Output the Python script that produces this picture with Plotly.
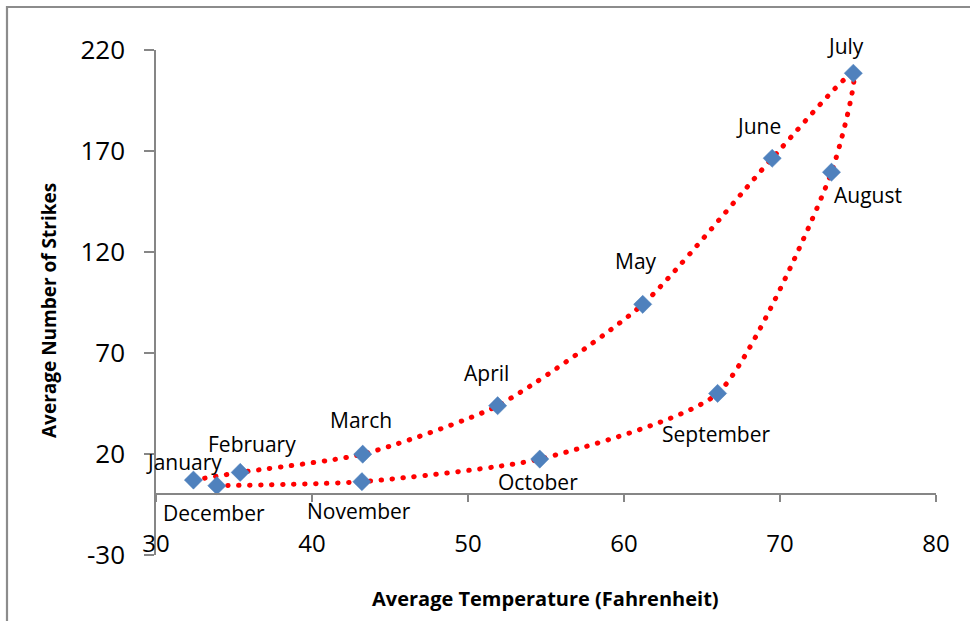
import plotly.graph_objects as go

# ---- data ----
months = ["January", "February", "March", "April", "May", "June",
          "July", "August", "September", "October", "November", "December"]
avg_temp_f = [32.4, 35.4, 43.25, 51.9, 61.2, 69.5, 74.7, 73.3, 66.0, 54.6, 43.2, 33.9]
avg_strikes = [7.1, 10.9, 19.9, 43.9, 94.1, 166.4, 208.5, 159.5, 50.0, 17.5, 6.3, 4.3]

x_ticks = [30, 40, 50, 60, 70, 80]
y_ticks = [-30, 20, 70, 120, 170, 220]

x_title = "Average Temperature (Fahrenheit)"
y_title = "Average Number of Strikes"

# ---- style ----
label_shift = [(-9, 18), (12, 28), (-2, 34), (-11, 33), (-7, 43), (-14, 32),
               (-8, 27), (37, -23), (-1, -41), (-2, -23), (-3, -29), (-3, -27)]
FONT = "Open Sans"
AXIS_COLOR = "#868686"
W, H = 970, 621
ML, MR, MT, MB = 156, 34, 50, 66
PW, PH = W - ML - MR, H - MT - MB


def px_to_paper_x(px):
    return (px - ML) / PW


def px_to_paper_y(py):
    return (H - MB - py) / PH


fig = go.Figure()
fig.add_trace(go.Scatter(
    x=avg_temp_f, y=avg_strikes, mode="lines+markers",
    line=dict(color="#FF0000", width=5, dash="5px,6px", shape="spline", smoothing=0.6),
    marker=dict(symbol="diamond", size=14, color="#4F81BD",
                line=dict(color="#4A7EBB", width=0.5)),
    hoverinfo="skip", showlegend=False,
))

annotations = []
for m, xv, yv, (dx, dy) in zip(months, avg_temp_f, avg_strikes, label_shift):
    annotations.append(dict(
        x=xv, y=yv, xref="x", yref="y", text=m, showarrow=False,
        xshift=dx, yshift=dy, xanchor="center", yanchor="middle",
        font=dict(family=FONT, size=21, color="#000000"),
    ))

annotations.append(dict(
    x=px_to_paper_x(545), y=px_to_paper_y(598), xref="paper", yref="paper",
    text="<b>" + x_title + "</b>", showarrow=False, xanchor="center", yanchor="middle",
    font=dict(family=FONT, size=20, color="#000000"),
))
annotations.append(dict(
    x=px_to_paper_x(49), y=px_to_paper_y(310), xref="paper", yref="paper",
    text="<b>" + y_title + "</b>", showarrow=False, xanchor="center", yanchor="middle",
    textangle=-90, font=dict(family=FONT, size=19, color="#000000"),
))

fig.update_layout(
    width=W, height=H,
    margin=dict(l=ML, r=MR, t=MT, b=MB, autoexpand=False),
    paper_bgcolor="white", plot_bgcolor="white",
    font=dict(family=FONT, color="#000000"),
    showlegend=False,
    xaxis=dict(
        range=[x_ticks[0], x_ticks[-1]], tickvals=x_ticks, ticktext=[str(v) for v in x_ticks],
        showgrid=False, zeroline=False, showline=False, ticks="",
        ticklabelstandoff=-28, ticklabeloverflow="allow",
        tickfont=dict(family=FONT, size=24, color="#000000"),
    ),
    xaxis2=dict(
        range=[x_ticks[0], x_ticks[-1]], tickvals=x_ticks, showticklabels=False,
        overlaying="x", anchor="free",
        position=(0 - y_ticks[0]) / (y_ticks[-1] - y_ticks[0]),
        showgrid=False, zeroline=False, showline=True, linecolor=AXIS_COLOR, linewidth=1.5,
        ticks="outside", ticklen=7, tickcolor=AXIS_COLOR, tickwidth=1.5,
    ),
    yaxis=dict(
        range=[y_ticks[0], y_ticks[-1]], tickvals=y_ticks, ticktext=[str(v) for v in y_ticks],
        showgrid=False, zeroline=False, showline=True, linecolor=AXIS_COLOR, linewidth=1.5,
        ticks="outside", ticklen=10, tickcolor=AXIS_COLOR, tickwidth=1.5,
        ticklabelstandoff=14, ticklabeloverflow="allow",
        tickfont=dict(family=FONT, size=26, color="#000000"),
    ),
    annotations=annotations,
    shapes=[dict(
        type="rect", xref="paper", yref="paper",
        x0=px_to_paper_x(7), x1=px_to_paper_x(990),
        y0=px_to_paper_y(640), y1=px_to_paper_y(7),
        line=dict(color="#8C8C8C", width=2.2), fillcolor="rgba(0,0,0,0)", layer="below",
    )],
)

# invisible carrier so the overlaid zero-line axis is drawn
fig.add_trace(go.Scatter(x=[x_ticks[0]], y=[0], xaxis="x2", mode="markers",
                         marker=dict(opacity=0), hoverinfo="skip", showlegend=False))

post = """
document.body.style.margin = '0';
var gd = document.getElementById('{plot_id}');
gd.querySelectorAll('.scatterlayer .js-line').forEach(function(p){
  p.style.strokeLinecap = 'round';
  p.style.strokeDasharray = '0.5px,10.5px';
});
"""
fig.write_html("out.html", config={"responsive": False, "displayModeBar": False}, post_script=post)
